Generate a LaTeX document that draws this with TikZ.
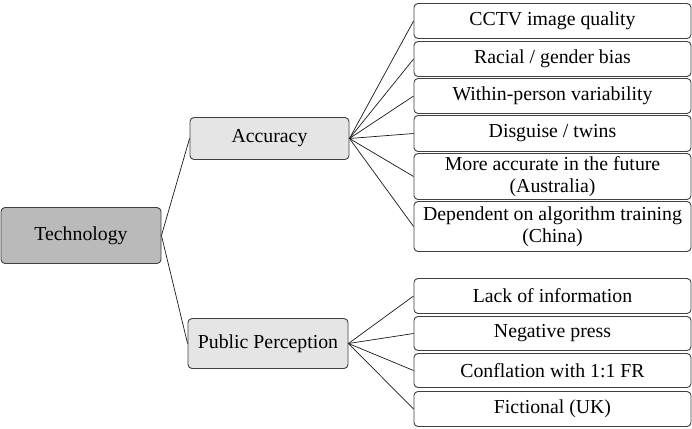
\documentclass[tikz,border=0pt]{standalone}
\usepackage{fontspec}
\setmainfont{Liberation Serif}
\begin{document}
\begin{tikzpicture}[x=1pt,y=-1pt,
  box/.style={draw=black!75, line width=0.9pt, rounded corners=4pt, inner sep=0pt, align=center,
    font=\fontsize{19.8}{21.7}\selectfont, text=black},
  leaf/.style={box, fill=white, minimum width=277pt},
  mid/.style={box, fill=black!10, minimum width=159pt},
  root/.style={box, fill=black!27, minimum width=160pt},
  conn/.style={draw=black!90, line width=0.7pt}]
\useasboundingbox (0,0) rectangle (692,428);
\node[root, minimum height=56pt] (tech) at (81,235.5) {Technology};
\node[mid, minimum height=42pt] (acc) at (269.5,138.5) {Accuracy};
\node[mid, minimum height=50pt, minimum width=160pt] (pub) at (268,343.5) {Public Perception};
\node[leaf, minimum height=35pt] (r1) at (552.5,21) {CCTV image quality};
\node[leaf, minimum height=35pt] (r2) at (552.5,59) {Racial / gender bias};
\node[leaf, minimum height=35pt] (r3) at (552.5,96) {Within-person variability};
\node[leaf, minimum height=36pt] (r4) at (552.5,133.5) {Disguise / twins};
\node[leaf, minimum height=46pt] (r5) at (552.5,176.5) {More accurate in the future\\(Australia)};
\node[leaf, minimum height=50pt] (r6) at (552.5,226.5) {Dependent on algorithm training\\(China)};
\node[leaf, minimum height=35pt] (l1) at (552.5,296) {Lack of information};
\node[leaf, minimum height=34pt] (l2) at (552.5,333.5) {Negative press};
\node[leaf, minimum height=34pt] (l3) at (552.5,370.5) {Conflation with 1:1 FR};
\node[leaf, minimum height=35pt] (l4) at (552.5,409) {Fictional (UK)};
\draw[conn] (tech.east) -- (acc.west);
\draw[conn] (tech.east) -- (pub.west);
\foreach \n in {r1,r2,r3,r4,r5,r6} \draw[conn] (acc.east) -- (\n.west);
\foreach \n in {l1,l2,l3,l4} \draw[conn] (pub.east) -- (\n.west);
\end{tikzpicture}
\end{document}
